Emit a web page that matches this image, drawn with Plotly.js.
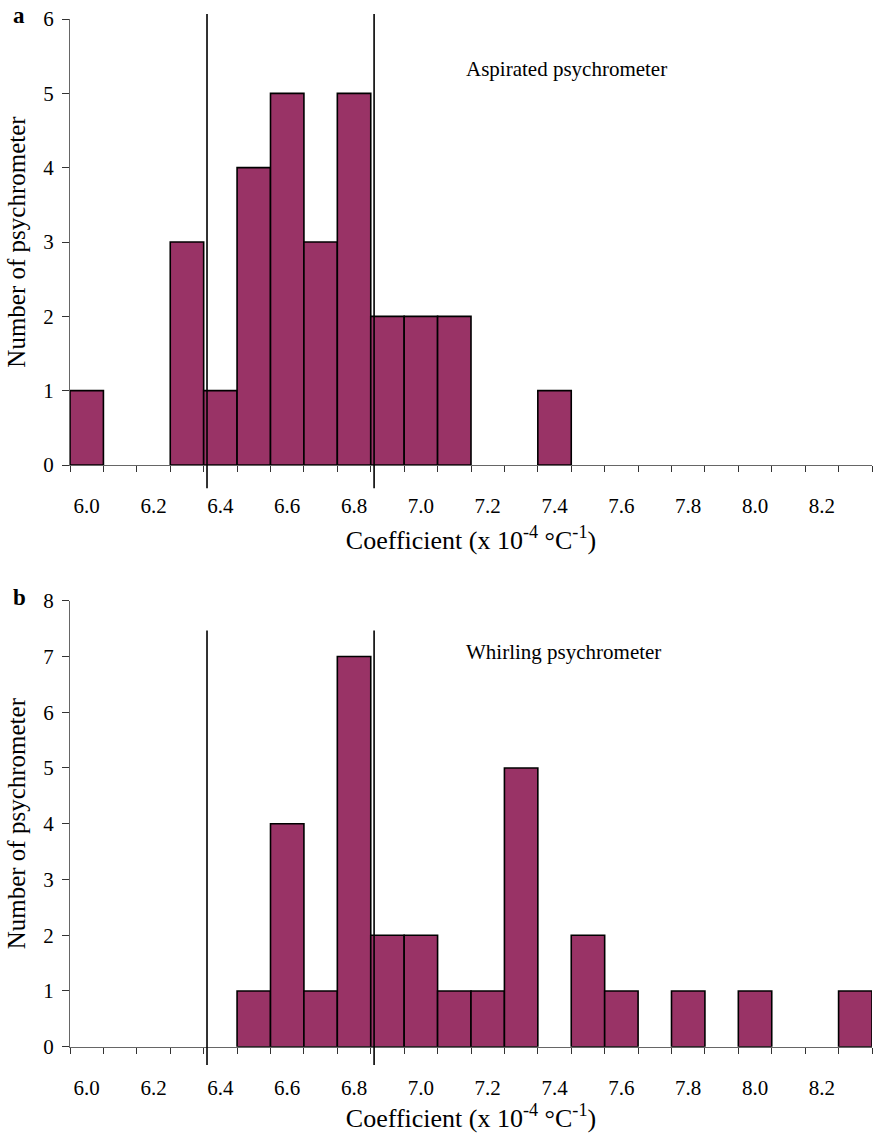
<!DOCTYPE html>
<html>
<head>
<meta charset="utf-8">
<script src="https://cdn.plot.ly/plotly-3.0.1.min.js"></script>
<style>html,body{margin:0;padding:0;background:#fff;}#chart{width:874px;height:1135px;}</style>
</head>
<body>
<div id="chart"></div>
<script>
// Bin centres (x 10^-4 °C^-1)
const bins = [6.0,6.1,6.2,6.3,6.4,6.5,6.6,6.7,6.8,6.9,7.0,7.1,7.2,7.3,7.4,7.5,7.6,7.7,7.8,7.9,8.0,8.1,8.2,8.3];
// Panel a: aspirated psychrometer counts
const aspirated = [1,0,0,3,1,4,5,3,5,2,2,2,0,0,1,0,0,0,0,0,0,0,0,0];
// Panel b: whirling psychrometer counts
const whirling  = [0,0,0,0,0,1,4,1,7,2,2,1,1,5,0,2,1,0,1,0,1,0,0,1];
// Reference limits drawn as vertical lines
const limits = [6.36, 6.86];
const tickVals = [6.0,6.2,6.4,6.6,6.8,7.0,7.2,7.4,7.6,7.8,8.0,8.2];
const tickText = ["6.0","6.2","6.4","6.6","6.8","7.0","7.2","7.4","7.6","7.8","8.0","8.2"];
const panelLabels = ["a","b"];
const panelNames = ["Aspirated psychrometer","Whirling psychrometer"];
const xTitle = 'Coefficient (x 10<sup>-4</sup> °C<sup>-1</sup>)';
const yTitle = 'Number of psychrometer';

const half = 0.05;
const edges = bins.map(b => +(b - half).toFixed(2)).concat([+(bins[bins.length-1] + half).toFixed(2)]);
const barColor = '#993366';
const serif = 'Liberation Serif';
const axColor = '#666';

function barTrace(vals, xa, ya){
  return {type:'bar', x:bins, y:vals.map(v => v === 0 ? null : v), xaxis:xa, yaxis:ya,
    width:0.1, marker:{color:barColor, line:{color:'#000', width:1.6}}, hoverinfo:'x+y', showlegend:false};
}

function xAxis(anchor, standoff){
  return {anchor:anchor, domain:[0,1], range:[edges[0], edges[edges.length-1]],
    tickmode:'array', tickvals:tickVals, ticktext:tickText, ticks:'', ticklabelstandoff:22,
    minor:{tickmode:'array', tickvals:edges, ticks:'outside', ticklen:6, tickwidth:1, tickcolor:'#333'},
    showline:true, linecolor:axColor, linewidth:1, showgrid:false, zeroline:false,
    tickfont:{family:serif, size:21, color:'#000'},
    title:{text:xTitle, font:{family:serif, size:26, color:'#000'}, standoff:standoff}};
}
function yAxis(anchor, dom, maxv){
  return {anchor:anchor, domain:dom, range:[0,maxv], dtick:1, tick0:0, ticks:'outside', ticklen:7, tickcolor:'#333',
    showline:true, linecolor:axColor, linewidth:1, showgrid:false, zeroline:false, ticklabelstandoff:4,
    tickfont:{family:serif, size:21, color:'#000'},
    title:{text:yTitle, font:{family:serif, size:25, color:'#000'}, standoff:10}};
}

const H = 1135;
const domA = [1-465/H, 1-19/H];
const domB = [1-1046.7/H, 1-600.7/H];

const data = [barTrace(aspirated,'x','y'), barTrace(whirling,'x2','y2')];

const shapes = [];
limits.forEach(v => {
  shapes.push({type:'line', xref:'x', yref:'y domain', x0:v, x1:v, y0:-0.052, y1:1.011, line:{color:'#000', width:1.6}, layer:'above'});
  shapes.push({type:'line', xref:'x2', yref:'y2 domain', x0:v, x1:v, y0:-0.041, y1:0.933, line:{color:'#000', width:1.6}, layer:'above'});
});

const annotations = [
  {text:'<b>'+panelLabels[0]+'</b>', xref:'paper', yref:'paper', x:-0.074, y:domA[1]+0.003, xanchor:'left', yanchor:'middle', showarrow:false, font:{family:serif, size:23, color:'#000'}},
  {text:'<b>'+panelLabels[1]+'</b>', xref:'paper', yref:'paper', x:-0.074, y:domB[1]+0.003, xanchor:'left', yanchor:'middle', showarrow:false, font:{family:serif, size:23, color:'#000'}},
  {text:panelNames[0], xref:'x domain', yref:'y domain', x:0.491, y:0.887, xanchor:'left', yanchor:'middle', showarrow:false, font:{family:serif, size:21, color:'#000'}},
  {text:panelNames[1], xref:'x2 domain', yref:'y2 domain', x:0.491, y:0.886, xanchor:'left', yanchor:'middle', showarrow:false, font:{family:serif, size:21, color:'#000'}}
];

const layout = {
  width:874, height:1135, margin:{l:70, r:2, t:0, b:0},
  font:{family:serif, size:21, color:'#000'},
  paper_bgcolor:'#fff', plot_bgcolor:'#fff', bargap:0,
  xaxis:xAxis('y', 13), yaxis:yAxis('x', domA, 6),
  xaxis2:xAxis('y2', 4), yaxis2:yAxis('x2', domB, 8),
  shapes:shapes, annotations:annotations
};

Plotly.newPlot('chart', data, layout, {displayModeBar:false, staticPlot:true});
</script>
</body>
</html>
